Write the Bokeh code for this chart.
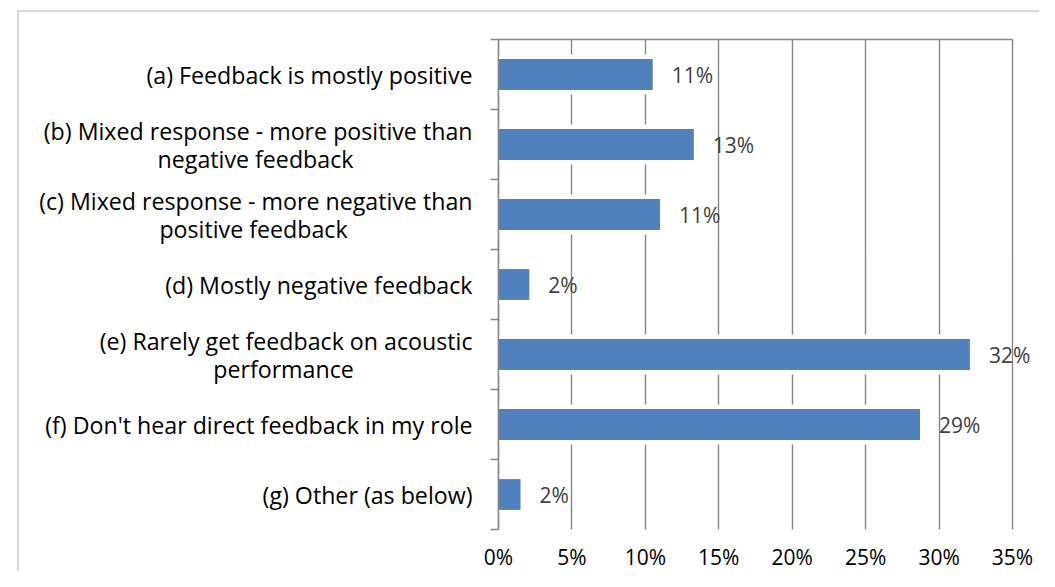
from bokeh.plotting import figure
from bokeh.models import Range1d, FixedTicker, ColumnDataSource, Grid
from bokeh.embed import file_html
from bokeh.resources import INLINE
from bokeh.core.properties import value

categories = [
    "(a) Feedback is mostly positive",
    "(b) Mixed response - more positive than\nnegative feedback",
    "(c) Mixed response - more negative than\npositive feedback",
    "(d) Mostly negative feedback",
    "(e) Rarely get feedback on acoustic\nperformance",
    "(f) Don't hear direct feedback in my role",
    "(g) Other (as below)",
]
values = [10.5, 13.3, 11.0, 2.1, 32.1, 28.7, 1.5]
value_labels = ["11%", "13%", "11%", "2%", "32%", "29%", "2%"]
x_ticks = [0, 5, 10, 15, 20, 25, 30, 35]
x_tick_labels = ["0%", "5%", "10%", "15%", "20%", "25%", "30%", "35%"]

# ---- layout constants (pixels) ----
W, H = 1039, 571
PX0, PX_PER = 498, (1012 - 498) / 35.0     # pixel of 0 %, pixels per 1 %
PY0, PY_PER = 39, 70.0                      # pixel of top of category area, pixels per category
line2_centre_px = {1: -243, 2: -245, 4: -215}   # centre of 2nd label line, relative to axis

FONT = "Open Sans"
GRID = "#868686"
BAR = "#4F81BD"
BORDER = "#d9d9d9"

n = len(categories)
centers = [i + 0.5 for i in range(n)]
bounds = [i for i in range(n + 1)]

src = ColumnDataSource(dict(
    y=centers,
    right=values,
    right_pad=[v + 0.3 for v in values],
    lab=value_labels,
))

# category label lines
l_y, l_text, l_xoff, l_yoff, l_align = [], [], [], [], []
for i, cat in enumerate(categories):
    parts = cat.split("\n")
    if len(parts) == 1:
        l_y.append(centers[i]); l_text.append(parts[0])
        l_xoff.append(-26); l_yoff.append(0); l_align.append("right")
    else:
        l_y.append(centers[i]); l_text.append(parts[0])
        l_xoff.append(-26); l_yoff.append(-14); l_align.append("right")
        l_y.append(centers[i]); l_text.append(parts[1])
        l_xoff.append(line2_centre_px[i]); l_yoff.append(14); l_align.append("center")
cat_src = ColumnDataSource(dict(x=[0] * len(l_y), y=l_y, text=l_text,
                                xo=l_xoff, yo=l_yoff, al=l_align))

x_range = Range1d(-PX0 / PX_PER, (W - PX0) / PX_PER)
y_range = Range1d((H - PY0) / PY_PER, -PY0 / PY_PER)

p = figure(width=W, height=H, output_backend="svg", toolbar_location=None,
           x_range=x_range, y_range=y_range,
           min_border_left=0, min_border_right=0, min_border_top=0, min_border_bottom=0,
           styles={"background":
                   f"linear-gradient({BORDER},{BORDER}) 17px 10px / 2px 100% no-repeat, "
                   f"linear-gradient({BORDER},{BORDER}) 17px 10px / 100% 2px no-repeat, white"})
p.outline_line_color = None
p.background_fill_alpha = 0
p.border_fill_alpha = 0

# grid lines (vertical), limited to the category area
p.xgrid.ticker = FixedTicker(ticks=x_ticks)
p.xgrid.grid_line_color = GRID
p.xgrid.grid_line_width = 1.4
# top border line of the plot area
p.ygrid.ticker = FixedTicker(ticks=[0])
p.ygrid.grid_line_color = GRID
p.ygrid.grid_line_width = 1.4
if "cross_bounds" in Grid.properties():
    p.xgrid.cross_bounds = (0, n)
    p.ygrid.cross_bounds = (0, x_ticks[-1])
else:
    p.xgrid.visible = False
    p.ygrid.visible = False
    p.segment(x0=x_ticks, x1=x_ticks, y0=[0] * len(x_ticks), y1=[n] * len(x_ticks),
              line_color=GRID, line_width=1.4)
    p.segment(x0=[0], x1=[x_ticks[-1]], y0=[0], y1=[0], line_color=GRID, line_width=1.4)

# bars with white halo
p.hbar(y="y", left=0, right="right_pad", height=0.57, source=src,
       fill_color="white", line_color=None)
p.hbar(y="y", left=0, right="right", height=0.44, source=src,
       fill_color=BAR, line_color=None)

# data labels
p.text(x="right", y="y", text="lab", source=src, x_offset=19,
       text_align="left", text_baseline="middle",
       text_font=value(FONT), text_font_size="21px", text_color="#404040")

# category labels
p.text(x="x", y="y", text="text", source=cat_src, x_offset="xo", y_offset="yo",
       text_align="al", text_baseline="middle",
       text_font=value(FONT), text_font_size="23.2px", text_color="black")

# x axis drawn at the bottom of the category area
xa = p.xaxis[0]
xa.fixed_location = n
xa.bounds = (0, x_ticks[-1])
xa.ticker = FixedTicker(ticks=x_ticks)
xa.major_label_overrides = {t: l for t, l in zip(x_ticks, x_tick_labels)}
xa.axis_line_color = None
xa.major_tick_line_color = None
xa.minor_tick_line_color = None
xa.major_tick_out = 0
xa.major_tick_in = 0
xa.major_label_standoff = 13
xa.major_label_text_font = FONT
xa.major_label_text_font_size = "21px"
xa.major_label_text_color = "black"

# y axis drawn at 0 %, ticks between categories
ya = p.yaxis[0]
ya.fixed_location = 0
ya.bounds = (0, n)
ya.ticker = FixedTicker(ticks=[], minor_ticks=bounds)
ya.axis_line_color = GRID
ya.axis_line_width = 1.4
ya.major_tick_line_color = None
ya.major_label_text_font_size = "0px"
ya.minor_tick_line_color = GRID
ya.minor_tick_line_width = 1.4
ya.minor_tick_out = 8
ya.minor_tick_in = 0

open("out.html", "w").write(file_html(p, INLINE))
